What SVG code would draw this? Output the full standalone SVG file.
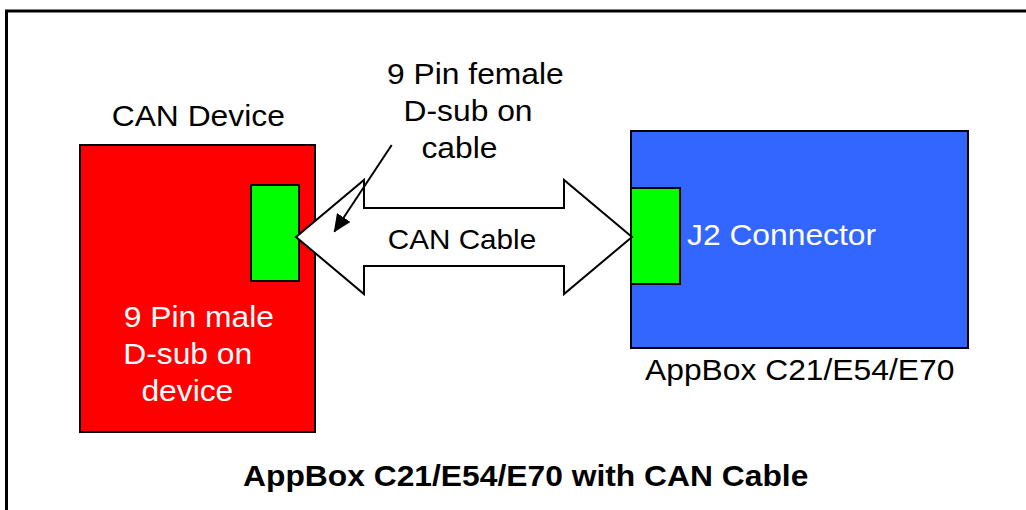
<svg xmlns="http://www.w3.org/2000/svg" width="1026" height="510" viewBox="0 0 1026 510">
<defs>
<style>
.box{stroke:#000;stroke-width:2}
.t{font-family:"Liberation Sans",Arial,sans-serif;font-size:30px;fill:#000}
.w{fill:#fff}
.b{font-weight:bold}
.conn{fill:none;stroke:#000;stroke-width:2}
</style>
<marker id="ah" markerUnits="userSpaceOnUse" markerWidth="18" markerHeight="16" viewBox="0 0 18 16" refX="17" refY="8" orient="auto">
<path d="M0,0 L18,8 L0,16 Z" fill="#000"/>
</marker>
</defs>
<rect width="1026" height="510" fill="#fff"/>
<g id="frame">
<rect x="6.5" y="11" width="1040" height="520" fill="none" stroke="#000" stroke-width="3"/>
</g>
<g id="can-device">
<rect class="box" x="80" y="145" width="235" height="287" fill="#ff0000"/>
<rect class="box" x="251" y="185" width="48" height="96" fill="#00ff00"/>
<text class="t" transform="translate(111.7,126) scale(1.06,1)">CAN Device</text>
<text class="t w" transform="translate(123.7,327) scale(1.06,1)">9 Pin male</text>
<text class="t w" transform="translate(123.2,364) scale(1.06,1)">D-sub on</text>
<text class="t w" transform="translate(141.4,401) scale(1.06,1)">device</text>
</g>
<g id="appbox">
<rect class="box" x="631" y="131" width="337" height="217" fill="#3366ff"/>
<rect class="box" x="631" y="188" width="49" height="96" fill="#00ff00"/>
<text class="t w" transform="translate(687,245) scale(1.06,1)">J2 Connector</text>
<text class="t" transform="translate(645,380) scale(1.06,1)">AppBox C21/E54/E70</text>
</g>
<g id="connectors">
<path d="M296,237 L364,180 L364,208 L564,208 L564,180 L632,237 L564,294 L564,266 L364,266 L364,294 Z" fill="#fff" stroke="#000" stroke-width="2" stroke-linejoin="miter"/>
<line class="conn" x1="391.7" y1="145" x2="334.3" y2="231.7" marker-end="url(#ah)"/>
</g>
<g id="cable-label">
<text class="t" style="font-size:28px" transform="translate(387.8,249) scale(1.06,1)">CAN Cable</text>
</g>
<g id="dsub-label">
<text class="t" transform="translate(387,84) scale(1.06,1)">9 Pin female</text>
<text class="t" transform="translate(403.5,121) scale(1.06,1)">D-sub on</text>
<text class="t" transform="translate(421.4,158) scale(1.06,1)">cable</text>
</g>
<g id="title">
<text class="t b" transform="translate(243,486) scale(1.06,1)">AppBox C21/E54/E70 with CAN Cable</text>
</g>
</svg>
